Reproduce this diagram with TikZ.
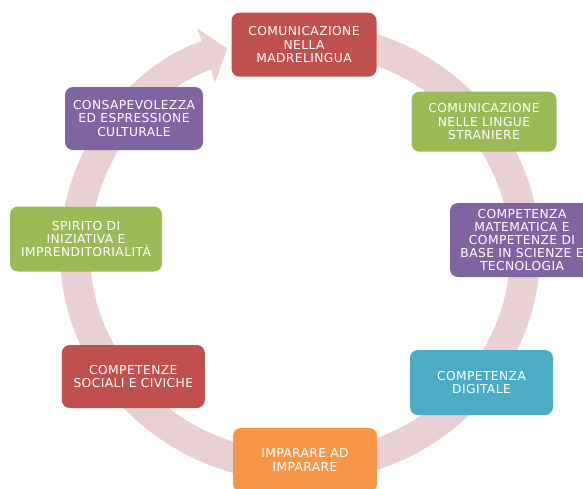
\documentclass[tikz,border=0pt]{standalone}
\usepackage{fontspec}
\newfontfamily\boxfont[LetterSpace=3.2]{DejaVu Sans}
\usetikzlibrary{arrows.meta}
\definecolor{ringpink}{RGB}{233,208,211}
\definecolor{kred}{RGB}{192,80,77}
\definecolor{kgreen}{RGB}{155,187,89}
\definecolor{kpurple}{RGB}{128,100,162}
\definecolor{kteal}{RGB}{75,172,198}
\definecolor{korange}{RGB}{247,150,70}
\begin{document}
\begin{tikzpicture}[x=1pt,y=-1pt,
  topic/.style={rounded corners=8pt, inner sep=0pt, text=white, align=center,
    font=\boxfont\fontsize{12.3}{13.2}\selectfont},
  ring/.style={line width=30pt, draw=ringpink,
    -{Triangle[length=22pt,width=56pt]}}]
\useasboundingbox (0,0) rectangle (583,488);
\clip (0,0) rectangle (583,488);

% circular arrow behind the boxes
\coordinate (c) at (300,252);
\draw[ring] ([shift={(85:225pt and 215pt)}]c)
  arc[start angle=85, end angle=-251.1, x radius=225pt, y radius=215pt];

% the eight key competences
\node[topic, fill=kred, minimum width=145pt, minimum height=64pt] (k1) at (304,44.7)
  {COMUNICAZIONE\\NELLA\\MADRELINGUA};
\node[topic, fill=kgreen, minimum width=145pt, minimum height=60pt] (k2) at (484,121.7)
  {COMUNICAZIONE\\NELLE LINGUE\\STRANIERE};
\node[topic, fill=kpurple, minimum width=144pt, minimum height=74pt] (k3) at (522,240)
  {COMPETENZA\\MATEMATICA E\\COMPETENZE DI\\BASE IN SCIENZE E\\TECNOLOGIA};
\node[topic, fill=kteal, minimum width=143pt, minimum height=65pt] (k4) at (481.5,382.5)
  {COMPETENZA\\DIGITALE};
\node[topic, fill=korange, minimum width=144pt, minimum height=64pt] (k5) at (305,460)
  {IMPARARE AD\\IMPARARE};
\node[topic, fill=kred, minimum width=143pt, minimum height=63pt] (k6) at (133.3,376.5)
  {COMPETENZE\\SOCIALI E CIVICHE};
\node[topic, fill=kgreen, minimum width=152pt, minimum height=65pt] (k7) at (86,239)
  {SPIRITO DI\\INIZIATIVA E\\IMPRENDITORIALITÀ};
\node[topic, fill=kpurple, minimum width=138pt, minimum height=63pt] (k8) at (134,118.5)
  {CONSAPEVOLEZZA\\ED ESPRESSIONE\\CULTURALE};
\end{tikzpicture}
\end{document}
